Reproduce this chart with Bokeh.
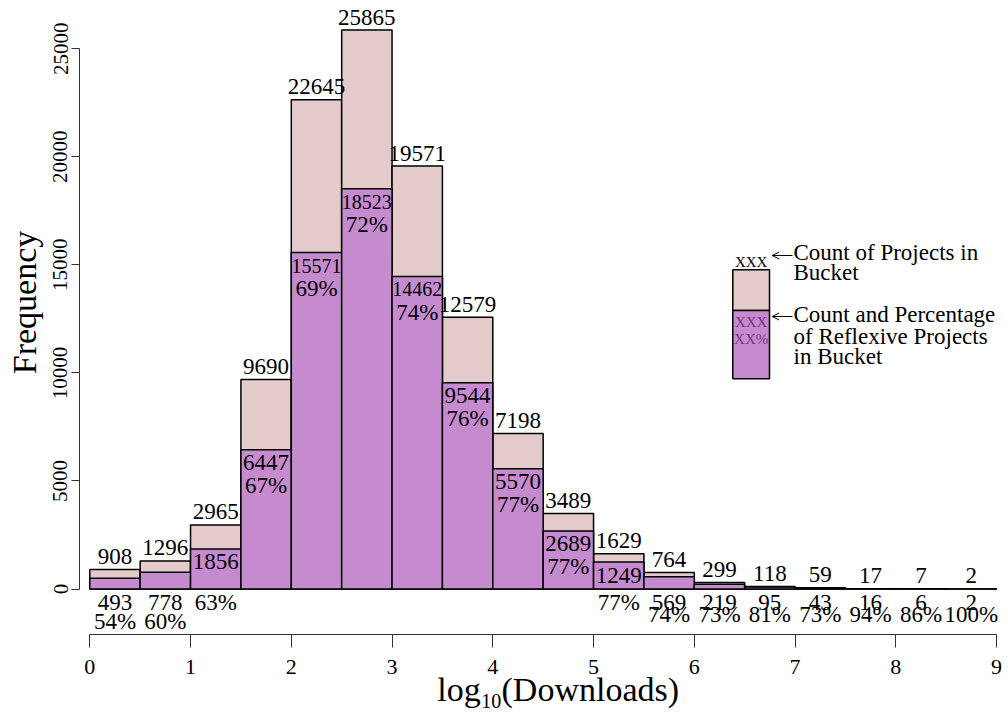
import math
from bokeh.plotting import figure
from bokeh.models import ColumnDataSource, FixedTicker, Label, Arrow, OpenHead, Range1d
from bokeh.embed import file_html
from bokeh.resources import INLINE
from bokeh.core.properties import value

# ---------------- data ----------------
bin_width = 0.5
bin_left = [i * bin_width for i in range(18)]
totals = [908, 1296, 2965, 9690, 22645, 25865, 19571, 12579, 7198, 3489,
          1629, 764, 299, 118, 59, 17, 7, 2]
reflexive = [493, 778, 1856, 6447, 15571, 18523, 14462, 9544, 5570, 2689,
             1249, 569, 219, 95, 43, 16, 6, 2]
percent = [54, 60, 63, 67, 69, 72, 74, 76, 77, 77, 77, 74, 73, 81, 73, 94, 86, 100]
x_ticks = [0, 1, 2, 3, 4, 5, 6, 7, 8, 9]
y_ticks = [0, 5000, 10000, 15000, 20000, 25000]
x_title_parts = ["log", "10", "(Downloads)"]
y_title = "Frequency"
legend_top_text = "Count of Projects in\nBucket"
legend_bottom_text = "Count and Percentage\nof Reflexive Projects\nin Bucket"

FONT = "Liberation Serif"
PINK = "#e4cbcb"
PURPLE = "#c68bce"
LEG_PURPLE = "#7a2f86"

W, H = 1008, 715
# pixel geometry of the frame (frame covers the whole canvas)
X0_PX, X_PER_UNIT = 89.3, 100.75
Y0_PX, PX_PER_COUNT = 588.5, 0.02161


def dx(px):
    return (px - X0_PX) / X_PER_UNIT


def dy(py):
    return (Y0_PX - py) / PX_PER_COUNT


# ---------------- figure ----------------
p = figure(width=W, height=H, output_backend="svg", toolbar_location=None,
           x_range=Range1d(dx(0), dx(W)), y_range=Range1d(dy(H), dy(0)),
           min_border_left=0, min_border_right=0, min_border_top=0, min_border_bottom=0)
p.outline_line_color = None
p.xgrid.visible = False
p.ygrid.visible = False
p.background_fill_color = "white"
p.border_fill_color = "white"

for ax in (p.xaxis[0], p.yaxis[0]):
    ax.axis_line_color = "#333333"
    ax.axis_line_width = 1
    ax.major_tick_line_color = "#333333"
    ax.minor_tick_line_color = None
    ax.major_tick_in = 0
    ax.major_label_text_font = FONT
    ax.major_label_text_color = "black"

xa = p.xaxis[0]
xa.ticker = FixedTicker(ticks=x_ticks)
xa.bounds = (x_ticks[0], x_ticks[-1])
xa.fixed_location = dy(634)
xa.major_tick_out = 13
xa.major_label_standoff = 12
xa.major_label_text_font_size = "22px"

ya = p.yaxis[0]
ya.ticker = FixedTicker(ticks=y_ticks)
ya.bounds = (y_ticks[0], y_ticks[-1])
ya.fixed_location = dx(79)
ya.major_tick_out = 8
ya.major_label_standoff = 4
ya.major_label_orientation = "vertical"
ya.major_label_text_font_size = "21px"

# ---------------- bars ----------------
n = len(totals)
centers = [l + bin_width / 2 for l in bin_left]
src = ColumnDataSource(dict(
    left=bin_left, right=[l + bin_width for l in bin_left],
    total=totals, refl=reflexive, zero=[0] * n))
p.quad(left="left", right="right", bottom="zero", top="total", source=src,
       fill_color=PINK, line_color="black", line_width=1.5)
p.quad(left="left", right="right", bottom="zero", top="refl", source=src,
       fill_color=PURPLE, line_color="black", line_width=1.5)


def txt(d, size, off, color="black"):
    p.text(x="x", y="y", text="t", source=ColumnDataSource(d), text_font=value(FONT),
           text_font_size=size, text_align="center", text_baseline="middle",
           y_offset=off, text_color=color)


# totals above the bars
txt(dict(x=centers, y=totals, t=[str(t) for t in totals]), "23px", -13)

# reflexive counts / percentages
in_big = dict(x=[], y=[], t=[])     # 5-digit counts inside
in_cnt = dict(x=[], y=[], t=[])     # counts inside
in_pct = dict(x=[], y=[], t=[])     # percentages inside
row1 = dict(x=[], y=[], t=[])       # below baseline, first row
row2l = dict(x=[], y=[], t=[])      # below baseline, second row (left)
row2r = dict(x=[], y=[], t=[])      # below baseline, second row (right)
for i in range(n):
    c, r, pc = centers[i], reflexive[i], f"{percent[i]}%"
    if r >= 1000:
        d = in_big if r >= 10000 else in_cnt
        d["x"].append(c); d["y"].append(r); d["t"].append(str(r))
        if r >= 2000:
            in_pct["x"].append(c); in_pct["y"].append(r); in_pct["t"].append(pc)
        else:
            row1["x"].append(c); row1["y"].append(0); row1["t"].append(pc)
    else:
        row1["x"].append(c); row1["y"].append(0); row1["t"].append(str(r))
        d = row2l if c < 3 else row2r
        d["x"].append(c); d["y"].append(0); d["t"].append(pc)

txt(in_big, "20px", 13)
txt(in_cnt, "23px", 13)
txt(in_pct, "23px", 36)
txt(row1, "23px", 13.5)
txt(row2l, "23px", 32)
txt(row2r, "23px", 25.5)

# ---------------- legend (drawn key) ----------------
lx0, lx1 = dx(732.3), dx(769)
l_bot, l_mid, l_top = dy(378.3), dy(310), dy(269.3)
p.quad(left=[lx0], right=[lx1], bottom=[l_mid], top=[l_top],
       fill_color=PINK, line_color="black", line_width=1.5)
p.quad(left=[lx0], right=[lx1], bottom=[l_bot], top=[l_mid],
       fill_color=PURPLE, line_color="black", line_width=1.5)
lxc = (lx0 + lx1) / 2
p.text(x=[lxc], y=[dy(261.5)], text=["XXX"], text_font=value(FONT), text_font_size="15px",
       text_align="center", text_baseline="middle", text_color="black")
p.text(x=[lxc, lxc], y=[dy(321.5), dy(338.2)], text=["XXX", "XX%"], text_font=value(FONT),
       text_font_size="15px", text_align="center", text_baseline="middle",
       text_color=LEG_PURPLE)
leg_lines = legend_top_text.split("\n") + legend_bottom_text.split("\n")
leg_py = [251.5, 272.2, 313.9, 335.5, 355.5]
p.text(x=[dx(793)] * len(leg_lines), y=[dy(v) for v in leg_py], text=leg_lines,
       text_font=value(FONT), text_font_size="23px", text_align="left",
       text_baseline="middle", text_color="black")
for ypx in (255, 316):
    p.add_layout(Arrow(x_start=dx(792), y_start=dy(ypx), x_end=dx(771.7), y_end=dy(ypx),
                       line_color="black", line_width=1,
                       end=OpenHead(size=7, line_color="black", line_width=1)))

# ---------------- axis titles ----------------
p.add_layout(Label(x=dx(24), y=dy(302), text=y_title, angle=math.pi / 2,
                   text_font=FONT, text_font_size="34px", text_align="center",
                   text_baseline="middle", text_color="black"))
p.add_layout(Label(x=dx(436.7), y=dy(689), text=x_title_parts[0], text_font=FONT,
                   text_font_size="34px", text_align="left",
                   text_baseline="middle", text_color="black"))
p.add_layout(Label(x=dx(480.7), y=dy(700), text=x_title_parts[1], text_font=FONT,
                   text_font_size="20px", text_align="left",
                   text_baseline="middle", text_color="black"))
p.add_layout(Label(x=dx(501), y=dy(689), text=x_title_parts[2], text_font=FONT,
                   text_font_size="34px", text_align="left",
                   text_baseline="middle", text_color="black"))

open("out.html", "w").write(file_html(p, INLINE))
